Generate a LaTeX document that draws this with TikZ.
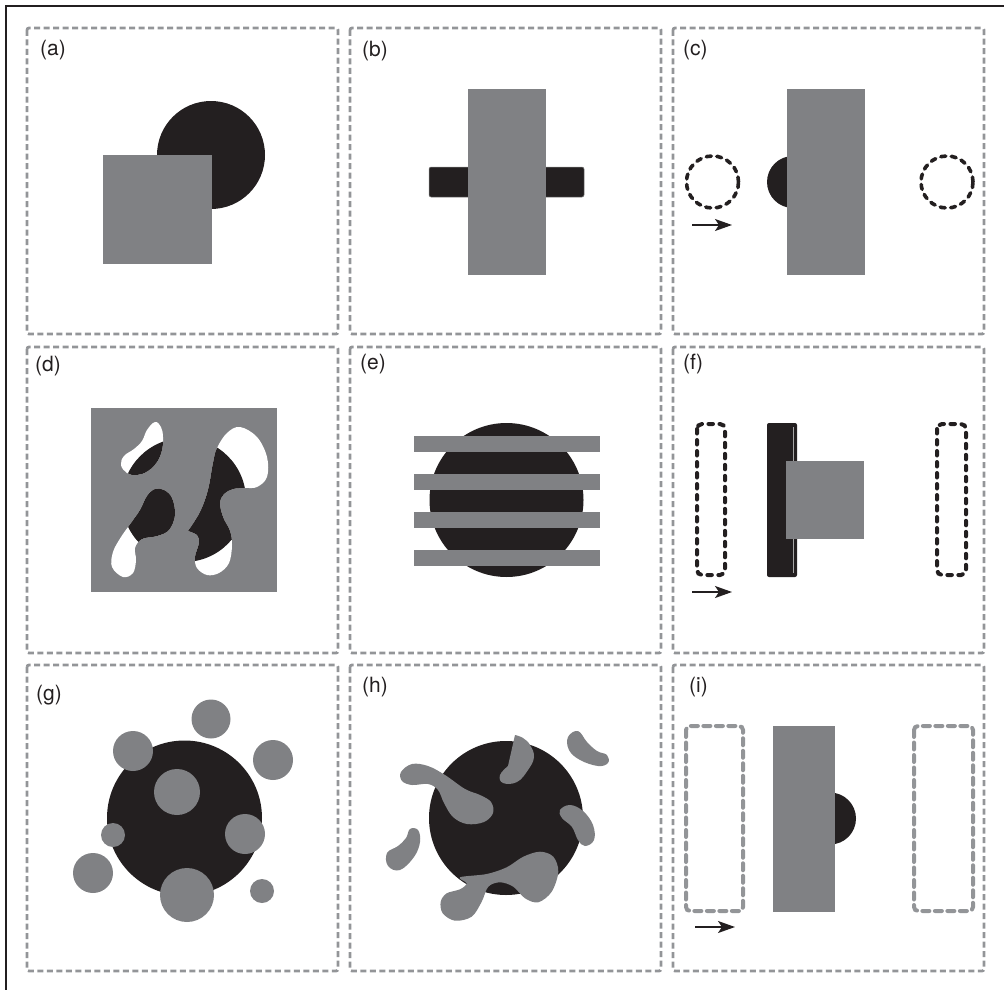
\documentclass[tikz,border=0pt]{standalone}
\usepackage{fontspec}
\setmainfont{TeX Gyre Heros}
\usetikzlibrary{arrows.meta}
\definecolor{fg}{HTML}{808184}
\definecolor{bk}{HTML}{231F20}
\definecolor{bd}{HTML}{939598}
\begin{document}
\begin{tikzpicture}[x=1pt,y=-1pt,
  panel/.style={draw=bd, line width=2.8pt, dash pattern=on 6pt off 3.5pt, rounded corners=2pt},
  lbl/.style={anchor=base west, inner sep=0pt, font=\fontsize{21}{24}\selectfont, text=bk},
  ghostb/.style={draw=bk, line width=3.6pt, dash pattern=on 5pt off 5.5pt, line cap=round},
  ghostf/.style={draw=bk, line width=4pt, dash pattern=on 4.5pt off 6.5pt, line cap=round, rounded corners=5pt},
  ghostg/.style={draw=bd, line width=4pt, dash pattern=on 7pt off 5.5pt, line cap=round, rounded corners=4pt},
  mv/.style={draw=bk, line width=1.4pt, -{Stealth[length=17pt,width=12pt,inset=4pt]}}
]
\useasboundingbox (0,0) rectangle (1004,990);
\draw[bk, line width=2.6pt] (6,990) -- (6,6) -- (1004,6);

% panels
\foreach \t/\x/\y in {a/27/28, b/350/28, c/673/28, d/27/347, e/350/347, f/673/347, g/27/665, h/350/665, i/673/665}{
  \draw[panel] (\x,\y) rectangle ++(311,306);
}
\foreach \t/\x/\y in {a/40/56, b/362/57, c/683/56, d/35/371, e/360/369, f/683/369, g/36/700, h/362/692, i/689/692}{
  \node[lbl] (lab\t) at (\x,\y) {(\t)};
}

% (a)
\fill[bk] (211,155) circle[radius=54pt];
\fill[fg] (103,155) rectangle (212,264);

% (b)
\fill[bk, draw=gray, line width=0.5pt, rounded corners=2pt] (429,167) rectangle (584,197);
\fill[fg] (468,89) rectangle (546,275);

% (c)
\draw[ghostb] (712.5,182) circle[radius=26pt];
\draw[ghostb] (947,182) circle[radius=26pt];
\fill[bk] (793,182) circle[radius=26pt];
\fill[fg] (787,89) rectangle (865,275);
\coordinate (c1) at (692,225);
\coordinate (c2) at (732,225);
\draw[mv] (c1) -- (c2);

% (d)
\fill[fg] (91,408) rectangle (277,592);
\def\holeA{plot[smooth cycle, tension=0.65] coordinates {(155,422) (161,427) (163,437) (162,450) (157,462) (148,471) (137,475) (127,473) (121,465) (124,456) (134,449) (142,441) (147,430)}}
\def\holeB{(188,531) -- plot[smooth, tension=0.6] coordinates {(188,531) (200,512) (208,490) (213,463) (217,448) (227,433) (240,427) (257,437) (267,457) (267,477) (257,487) (245,488) (233,489) (224,494) (220,503) (223,517) (230,531) (232,545) (229,563) (219,573) (207,575) (197,568) (195,557) (199,543) (197,535) (188,531)} -- cycle}
\def\holeC{plot[smooth cycle, tension=0.6] coordinates {(155,489) (147,496) (140,510) (131,523) (121,537) (113,552) (112,567) (123,577) (133,573) (136,560) (135,548) (142,539) (157,536) (169,530) (175,515) (172,498) (164,490)}}
\fill[white] \holeA;
\fill[white] \holeB;
\fill[white] \holeC;
\begin{scope}
  \clip \holeA;
  \fill[bk] (184,500) circle[radius=62pt];
\end{scope}
\begin{scope}
  \clip \holeB;
  \fill[bk] (184,500) circle[radius=62pt];
\end{scope}
\begin{scope}
  \clip \holeC;
  \fill[bk] (184,500) circle[radius=62pt];
\end{scope}

% (e)
\fill[bk] (506.5,500) circle[radius=77pt];
\foreach \yy in {436,474,512,550}{
  \fill[fg] (414,\yy) rectangle (600,\yy+16);
}

% (f)
\draw[ghostf] (697,424) rectangle (725,575);
\draw[ghostf] (937,424) rectangle (966,575);
\fill[bk, rounded corners=2pt] (767,423) rectangle (797,577);
\draw[gray!70, line width=0.6pt] (793,427) -- (793,573);
\fill[fg] (786,461) rectangle (864,539);
\coordinate (f1) at (692,592);
\coordinate (f2) at (732,592);
\draw[mv] (f1) -- (f2);

% (g)
\fill[bk] (184.5,818) circle[radius=77.5pt];
\foreach \cx/\cy/\r in {211/719/19.5, 133/751/20, 273/760/20, 177/792/23, 113/835/12, 245/834/20, 93/873/20, 187/895/27, 262/891/12}{
  \fill[fg] (\cx,\cy) circle[radius=\r pt];
}

% (h)
\fill[bk] (506,818) circle[radius=77pt];
\fill[fg] plot[smooth cycle, tension=0.6] coordinates {(401,772) (412,764) (428,766) (445,775) (465,789) (480,795) (491,802) (493,813) (484,822) (467,824) (453,817) (444,803) (438,790) (428,784) (412,785) (402,781)};
\fill[fg] (515,735) -- plot[smooth, tension=0.7] coordinates {(508,766) (500,775) (503,783) (517,782) (528,770) (534,757) (530,745) (523,738) (515,735)} -- cycle;
\fill[fg] plot[smooth cycle, tension=0.65] coordinates {(568,737) (578,731) (587,742) (597,751) (607,755) (608,763) (598,766) (580,760) (569,750)};
\fill[fg] plot[smooth cycle, tension=0.65] coordinates {(560,810) (570,805) (583,811) (593,825) (594,840) (585,846) (578,840) (572,827) (562,818)};
\fill[fg] plot[smooth cycle, tension=0.65] coordinates {(410,829) (418,830) (420,842) (414,857) (400,870) (388,866) (387,853) (398,846) (406,838)};
\fill[fg] plot[smooth cycle, tension=0.55] coordinates {(460,877.3) (486.7,874) (506.7,867.3) (523.3,856.7) (540,851.7) (553.3,856.7) (558.3,871.7) (551.7,891.7) (538.3,902.3) (525,898.3) (513.3,886.7) (500,882.3) (488.3,886.7) (481.7,901.7) (471.7,916.7) (455,920.7) (442.7,913.3) (440.7,901.7) (446.7,893.3) (460,889.3) (466.7,883.3)};

% (i)
\draw[ghostg] (686,726) rectangle (743,911);
\draw[ghostg] (914,726) rectangle (973,911);
\fill[bk] (830,818.5) circle[radius=26pt];
\fill[fg] (773,726) rectangle (835,912);
\coordinate (i1) at (695,927);
\coordinate (i2) at (735,927);
\draw[mv] (i1) -- (i2);
\end{tikzpicture}
\end{document}
